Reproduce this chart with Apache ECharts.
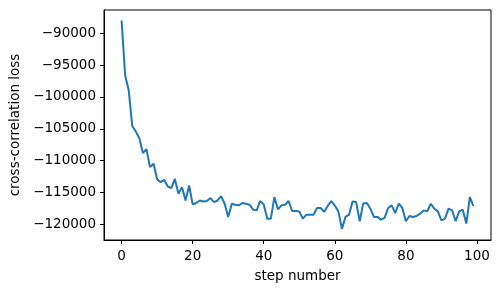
<!DOCTYPE html>
<html>
<head>
<meta charset="utf-8">
<script src="https://cdn.jsdelivr.net/npm/echarts@6/dist/echarts.min.js"></script>
<style>
html,body{margin:0;padding:0;background:#fff;}
#chart{width:501px;height:294px;}
</style>
</head>
<body>
<div id="chart"></div>
<script>
const steps = Array.from({length: 100}, (_, i) => i);
const loss = [
  -88000, -96600, -98940, -104550, -105420, -106470, -108800, -108180, -111000, -110470,
  -112900, -113370, -113000, -114050, -114300, -112860, -115200, -114150, -116240, -113900,
  -116860, -116640, -116240, -116390, -116330, -115860, -116490, -116240, -115550, -116750,
  -118820, -116750, -116900, -117000, -116640, -116750, -116900, -117680, -117790, -116330,
  -116860, -119090, -119090, -115710, -117640, -117010, -116900, -116330, -117890, -117890,
  -117950, -119090, -118470, -118470, -118470, -117420, -117420, -118040, -117110, -116330,
  -117010, -117950, -120700, -118820, -118470, -116390, -116490, -119500, -116700, -116640,
  -117530, -118820, -118820, -119240, -118980, -117420, -117010, -118200, -116750, -117420,
  -119500, -118670, -118820, -118670, -118310, -117790, -117950, -116750, -117530, -117950,
  -119350, -119090, -117530, -117790, -119500, -117950, -117680, -119870, -115710, -117110
];
const xTicks = [0, 20, 40, 60, 80, 100];
const yTicks = [-120000, -115000, -110000, -105000, -100000, -95000, -90000];
const xLabel = 'step number';
const yLabel = 'cross-correlation loss';

const font = 'DejaVu Sans';
const chart = echarts.init(document.getElementById('chart'), null, {renderer: 'canvas'});
chart.setOption({
  animation: false,
  grid: {left: 104, right: 10, top: 10, bottom: 54, show: true, borderColor: '#000', borderWidth: 1, backgroundColor: 'transparent'},
  xAxis: {
    type: 'value', min: -4.95, max: 103.95,
    name: xLabel, nameLocation: 'middle', nameGap: 29,
    nameTextStyle: {fontFamily: font, fontSize: 13.5, color: '#000'},
    axisLine: {show: true, onZero: false, lineStyle: {color: '#000', width: 1}},
    axisTick: {show: true, length: 4, customValues: xTicks, lineStyle: {color: '#000'}},
    axisLabel: {customValues: xTicks, margin: 9, fontFamily: font, fontSize: 13.5, color: '#000', formatter: v => String(v)},
    splitLine: {show: false}
  },
  yAxis: {
    type: 'value', min: -122440, max: -86360,
    name: yLabel, nameLocation: 'middle', nameGap: 82, nameRotate: 90,
    nameTextStyle: {fontFamily: font, fontSize: 13.5, color: '#000'},
    axisLine: {show: true, onZero: false, lineStyle: {color: '#000', width: 1}},
    axisTick: {show: true, length: 4, customValues: yTicks, lineStyle: {color: '#000'}},
    axisLabel: {customValues: yTicks, margin: 8, fontFamily: font, fontSize: 13.5, color: '#000', formatter: v => String(v).replace('-', '\u2212')},
    splitLine: {show: false}
  },
  series: [{
    type: 'line',
    data: steps.map((s, i) => [s, loss[i]]),
    showSymbol: false,
    lineStyle: {color: '#1f77b4', width: 2},
    itemStyle: {color: '#1f77b4'}
  }]
});
</script>
</body>
</html>
